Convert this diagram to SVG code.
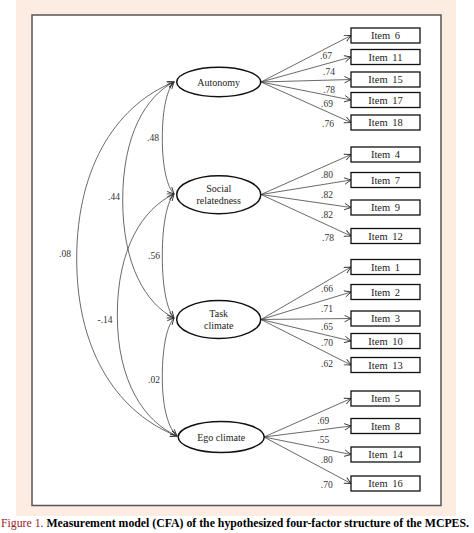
<svg xmlns="http://www.w3.org/2000/svg" width="474" height="533" viewBox="0 0 474 533">
<style>
.ser{font-family:"Liberation Serif","Times New Roman",serif;}
.lat{fill:#fff;stroke:#111;stroke-width:1.5;}
.box{fill:#fff;stroke:#111;stroke-width:1.3;}
.lbl{font-family:"Liberation Serif","Times New Roman",serif;font-size:10px;fill:#222;text-anchor:middle;}
.itm{font-family:"Liberation Serif","Times New Roman",serif;font-size:10.5px;fill:#222;text-anchor:middle;word-spacing:2px;}
.num{font-family:"Liberation Serif","Times New Roman",serif;font-size:9.5px;fill:#333;text-anchor:middle;}
.ln{fill:none;stroke:#444;stroke-width:0.8;marker-end:url(#ah);}
.cv{fill:none;stroke:#444;stroke-width:0.8;marker-start:url(#ah);marker-end:url(#ah);}
</style>
<defs>
<marker id="ah" markerUnits="userSpaceOnUse" markerWidth="9" markerHeight="9" refX="7" refY="4" orient="auto-start-reverse">
<path d="M0.5,0.8 L7,4 L0.5,7.2" fill="none" stroke="#333" stroke-width="0.9"/>
</marker>
</defs>
<rect x="16" y="0" width="440" height="516" fill="#fdece2"/>
<rect x="32" y="15" width="409" height="490.5" fill="#fff" stroke="#555" stroke-width="1.5"/>

<g id="connectors">
<path class="cv" d="M174,82 C167.6,88.7 162.3,107.2 162.3,138 C162.3,168.8 167.6,187.3 174,194"/>
<path class="cv" d="M174,82 C145.8,96.2 122.7,135.1 122.7,200 C122.7,264.9 145.8,303.8 174,318"/>
<path class="cv" d="M174,82 C120.5,103.2 76.7,161.6 76.7,259 C76.7,356.4 121.8,414.8 177,436"/>
<path class="cv" d="M174,194 C167.6,201.4 162.3,221.9 162.3,256 C162.3,290.1 167.6,310.6 174,318"/>
<path class="cv" d="M174,194 C142.8,208.5 117.3,248.4 117.3,315 C117.3,381.6 144.2,421.5 177,436"/>
<path class="cv" d="M174,318 C167.6,325.1 162.3,344.5 162.3,377 C162.3,409.5 168.9,428.9 177,436"/>
<text class="num" x="153" y="140.5">.48</text>
<text class="num" x="114" y="200">.44</text>
<text class="num" x="65" y="256.5">.08</text>
<text class="num" x="154" y="258.5">.56</text>
<text class="num" x="105" y="322.5">-.14</text>
<text class="num" x="154" y="382.5">.02</text>

<line class="ln" x1="261" y1="82" x2="351" y2="35.5"/>
<line class="ln" x1="261" y1="82" x2="351" y2="57"/>
<line class="ln" x1="261" y1="82" x2="351" y2="79.5"/>
<line class="ln" x1="261" y1="82" x2="351" y2="100"/>
<line class="ln" x1="261" y1="82" x2="351" y2="122.5"/>
<text class="num" x="326" y="59.3">.67</text>
<text class="num" x="329" y="74.8">.74</text>
<text class="num" x="329" y="93.3">.78</text>
<text class="num" x="327" y="107.3">.69</text>
<text class="num" x="328" y="127.3">.76</text>

<line class="ln" x1="261" y1="194.5" x2="351" y2="154.5"/>
<line class="ln" x1="261" y1="194.5" x2="351" y2="180"/>
<line class="ln" x1="261" y1="194.5" x2="351" y2="207.5"/>
<line class="ln" x1="261" y1="194.5" x2="351" y2="236"/>
<text class="num" x="327" y="177.6">.80</text>
<text class="num" x="327" y="198.3">.82</text>
<text class="num" x="327" y="217.6">.82</text>
<text class="num" x="328" y="241">.78</text>

<line class="ln" x1="261" y1="319.5" x2="351" y2="267"/>
<line class="ln" x1="261" y1="319.5" x2="351" y2="292"/>
<line class="ln" x1="261" y1="319.5" x2="351" y2="318.5"/>
<line class="ln" x1="261" y1="319.5" x2="351" y2="341"/>
<line class="ln" x1="261" y1="319.5" x2="351" y2="365"/>
<text class="num" x="327" y="292">.66</text>
<text class="num" x="327" y="311.6">.71</text>
<text class="num" x="327" y="330">.65</text>
<text class="num" x="327" y="346">.70</text>
<text class="num" x="327" y="366.6">.62</text>

<line class="ln" x1="264" y1="437" x2="351" y2="398.5"/>
<line class="ln" x1="264" y1="437" x2="351" y2="426"/>
<line class="ln" x1="264" y1="437" x2="351" y2="454.5"/>
<line class="ln" x1="264" y1="437" x2="351" y2="483.5"/>
<text class="num" x="323.3" y="424.3">.69</text>
<text class="num" x="323.3" y="443.3">.55</text>
<text class="num" x="326.7" y="463.3">.80</text>
<text class="num" x="326.7" y="487.6">.70</text>
</g>

<g id="autonomy"><ellipse class="lat" cx="218.7" cy="82" rx="42" ry="14.7"/><text class="lbl" x="218.7" y="85.5">Autonomy</text></g>
<g id="social"><ellipse class="lat" cx="218.7" cy="194.7" rx="42" ry="19"/><text class="lbl" x="218.7" y="192">Social</text><text class="lbl" x="218.7" y="204">relatedness</text></g>
<g id="task"><ellipse class="lat" cx="218.7" cy="319.5" rx="42" ry="19"/><text class="lbl" x="218.7" y="316.5">Task</text><text class="lbl" x="218.7" y="328.5">climate</text></g>
<g id="ego"><ellipse class="lat" cx="221.2" cy="437" rx="43" ry="15.5"/><text class="lbl" x="221.2" y="440.5">Ego climate</text></g>

<g id="item6"><rect class="box" x="351" y="28" width="69" height="15"/><text class="itm" x="385.5" y="39">Item 6</text></g>
<g id="item11"><rect class="box" x="351" y="49.5" width="69" height="15"/><text class="itm" x="385.5" y="60.5">Item 11</text></g>
<g id="item15"><rect class="box" x="351" y="72" width="69" height="15"/><text class="itm" x="385.5" y="83">Item 15</text></g>
<g id="item17"><rect class="box" x="351" y="92.5" width="69" height="15"/><text class="itm" x="385.5" y="103.5">Item 17</text></g>
<g id="item18"><rect class="box" x="351" y="115" width="69" height="15"/><text class="itm" x="385.5" y="126">Item 18</text></g>

<g id="item4"><rect class="box" x="351" y="147" width="69" height="15"/><text class="itm" x="385.5" y="158">Item 4</text></g>
<g id="item7"><rect class="box" x="351" y="172.5" width="69" height="15"/><text class="itm" x="385.5" y="183.5">Item 7</text></g>
<g id="item9"><rect class="box" x="351" y="200" width="69" height="15"/><text class="itm" x="385.5" y="211">Item 9</text></g>
<g id="item12"><rect class="box" x="351" y="228.5" width="69" height="15"/><text class="itm" x="385.5" y="239.5">Item 12</text></g>

<g id="item1"><rect class="box" x="351" y="259.5" width="69" height="15"/><text class="itm" x="385.5" y="270.5">Item 1</text></g>
<g id="item2"><rect class="box" x="351" y="284.5" width="69" height="15"/><text class="itm" x="385.5" y="295.5">Item 2</text></g>
<g id="item3"><rect class="box" x="351" y="311" width="69" height="15"/><text class="itm" x="385.5" y="322">Item 3</text></g>
<g id="item10"><rect class="box" x="351" y="333.5" width="69" height="15"/><text class="itm" x="385.5" y="344.5">Item 10</text></g>
<g id="item13"><rect class="box" x="351" y="357.5" width="69" height="15"/><text class="itm" x="385.5" y="368.5">Item 13</text></g>

<g id="item5"><rect class="box" x="351" y="391" width="69" height="15"/><text class="itm" x="385.5" y="402">Item 5</text></g>
<g id="item8"><rect class="box" x="351" y="418.5" width="69" height="15"/><text class="itm" x="385.5" y="429.5">Item 8</text></g>
<g id="item14"><rect class="box" x="351" y="447" width="69" height="15"/><text class="itm" x="385.5" y="458">Item 14</text></g>
<g id="item16"><rect class="box" x="351" y="476" width="69" height="15"/><text class="itm" x="385.5" y="487">Item 16</text></g>

<text class="ser" x="1" y="527" font-size="11.6" font-weight="bold" textLength="468" lengthAdjust="spacingAndGlyphs"><tspan fill="#9b1c1f" font-weight="normal">Figure 1.</tspan> Measurement model (CFA) of the hypothesized four-factor structure of the MCPES.</text>
</svg>
